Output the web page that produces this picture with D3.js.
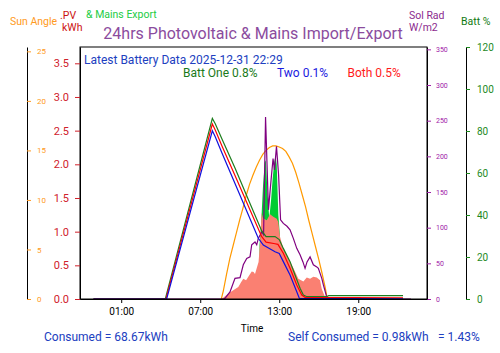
<!DOCTYPE html>
<html lang="en">
<head>
    <meta charset="UTF-8">
    <title>24hrs Photovoltaic & Mains Import/Export</title>
    <script src="https://cdnjs.cloudflare.com/ajax/libs/d3/7.8.5/d3.min.js"></script>
    <style>
        body { margin: 0; background: #fff; }
        text { font-family: Roboto, sans-serif; }
    </style>
</head>
<body>
    <div id="wrapper"></div>
    <script>
        // times are hours from midnight 2025-12-31 (negative = previous evening)
        const xTickHours = [1, 7, 13, 19]
        const xTickLabels = ['01:00', '07:00', '13:00', '19:00']

        // [hour, kWh] PV generation
        const pvData = [[8.63, 0], [8.88, 0.04], [9.13, 0.08], [9.51, 0.13], [9.89, 0.18], [10.1, 0.25],
            [10.27, 0.30], [10.48, 0.28], [10.65, 0.33], [10.91, 0.41], [11.05, 0.40], [11.16, 0.37],
            [11.31, 0.47], [11.43, 0.55], [11.54, 0.83], [11.66, 1.28], [11.77, 1.20], [12.05, 1.17],
            [12.3, 1.26], [12.55, 1.22], [12.81, 1.19], [12.93, 1.14], [13.06, 0.92], [13.31, 0.75],
            [13.69, 0.60], [14.07, 0.46], [14.45, 0.30], [14.83, 0.26], [15.09, 0.32], [15.34, 0.30],
            [15.59, 0.33], [15.85, 0.32], [16.1, 0.28], [16.23, 0.15], [16.48, 0.03], [16.59, 0]]

        // [hour, kWh] mains export
        const exportData = [[11.5, 0.8], [11.62, 1.10], [11.77, 1.69], [11.9, 2.03], [11.98, 2.06],
            [12.12, 1.54], [12.24, 1.20], [12.38, 1.47], [12.5, 1.79], [12.62, 2.03], [12.72, 2.14],
            [12.81, 1.99], [12.93, 1.25], [13.06, 0.92]]

        // [hour, degrees]
        const sunAngle = [[8.6, 0], [8.75, 0.8], [9.0, 2.5], [9.25, 4.1], [9.5, 5.4], [9.75, 6.7],
            [10.0, 8.0], [10.25, 9.2], [10.5, 10.5], [10.75, 11.6], [11.0, 12.5], [11.25, 13.3],
            [11.5, 14.0], [11.75, 14.6], [12.0, 15.0], [12.25, 15.3], [12.5, 15.45], [12.75, 15.45],
            [13.0, 15.35], [13.25, 15.2], [13.5, 14.9], [13.75, 14.35], [14.0, 13.7], [14.25, 12.8],
            [14.5, 11.7], [14.75, 10.5], [15.0, 9.3], [15.25, 7.9], [15.5, 6.6], [15.75, 5.3],
            [16.0, 4.0], [16.25, 2.6], [16.5, 1.1], [16.65, 0]]

        // [hour, W/m2]
        const solarRad = [[-1.1, 0], [8.8, 0], [8.88, 1], [9.26, 10], [9.64, 29], [10.02, 30],
            [10.27, 48], [10.53, 57], [10.78, 59], [10.91, 76], [11.16, 80], [11.29, 76], [11.41, 85],
            [11.67, 94], [11.81, 90], [11.96, 255], [12.18, 125], [12.38, 167], [12.53, 197],
            [12.64, 181], [12.79, 214], [12.95, 174], [13.1, 111], [13.31, 106], [13.59, 102],
            [13.82, 97], [14.07, 85], [14.33, 71], [14.58, 62], [14.8, 52], [14.96, 43], [15.11, 52],
            [15.34, 59], [15.59, 48], [15.85, 45], [15.97, 43], [16.23, 29], [16.35, 20], [16.6, 3],
            [16.7, 0], [23.0, 0]]

        // [hour, %]
        const battOne = [[-1.1, 0], [4.35, 0], [7.92, 86.0], [8.14, 83.5], [8.65, 76.2], [9.64, 62.4],
            [10.65, 47.4], [11.67, 32.4], [12.0, 29.7], [12.68, 29.7], [13.0, 28.3], [13.31, 24.1],
            [13.82, 17.8], [14.2, 11.4], [14.58, 5.1], [14.83, 1.9], [15.1, 1.1], [16.6, 1.1],
            [16.75, 1.6], [22.4, 1.6]]
        const battTwo = [[-1.1, 0], [4.45, 0], [7.92, 80.1], [8.14, 77.3], [8.65, 69.5], [9.64, 55.0],
            [10.65, 40.1], [11.41, 28.9], [11.79, 25.7], [12.68, 22.5], [13.0, 21.7], [13.31, 17.8],
            [13.82, 11.4], [14.33, 3.5], [14.53, 0.3], [22.4, 0.1]]
        const battBoth = [[-1.1, 0], [4.4, 0], [7.92, 83.3], [8.14, 80.5], [8.65, 72.9], [9.64, 58.8],
            [10.65, 44.3], [11.67, 29.7], [12.0, 27.1], [12.68, 26.3], [12.9, 26.0], [13.31, 21.8],
            [13.82, 14.6], [14.33, 6.7], [14.71, 1.9], [14.96, 0.8], [22.4, 0.6]]

        const pvTicks = [0, 0.5, 1, 1.5, 2, 2.5, 3, 3.5]
        const sunTicks = [0, 5, 10, 15, 20, 25]
        const radTicks = [0, 50, 100, 150, 200, 250, 300, 350]
        const battTicks = [0, 20, 40, 60, 80, 100, 120]

        const dims = { width: 500, height: 353, left: 80, right: 427, top: 47, bottom: 299 }

        const svg = d3.select('#wrapper').append('svg')
            .attr('width', dims.width)
            .attr('height', dims.height)

        const xScale = d3.scaleLinear().domain([-2.13, 24.22]).range([dims.left, dims.right])
        const pvScale = d3.scaleLinear().domain([0, 3.742]).range([dims.bottom, dims.top])
        const sunScale = d3.scaleLinear().domain([0, 25.44]).range([dims.bottom, dims.top])
        const radScale = d3.scaleLinear().domain([0, 353.3]).range([dims.bottom, dims.top])
        const battScale = d3.scaleLinear().domain([0, 120]).range([dims.bottom, dims.top])

        const area = d3.area()
            .x(d => xScale(d[0]))
            .y0(pvScale(0))
            .y1(d => pvScale(d[1]))

        svg.append('path').attr('d', area(exportData)).attr('fill', '#00cc33')
        svg.append('path').attr('d', area(pvData)).attr('fill', '#fa8072')

        function drawLine(data, yScale, colour) {
            const line = d3.line().x(d => xScale(d[0])).y(d => yScale(d[1]))
            svg.append('path')
                .attr('d', line(data))
                .attr('fill', 'none')
                .attr('stroke', colour)
                .attr('stroke-width', 1.2)
        }
        drawLine(sunAngle, sunScale, '#ff9900')
        drawLine(solarRad, radScale, '#800080')
        drawLine(battOne, battScale, '#1e7d1e')
        drawLine(battBoth, battScale, '#ff0000')
        drawLine(battTwo, battScale, '#1010dd')

        // frame
        svg.append('rect')
            .attr('x', dims.left).attr('y', dims.top)
            .attr('width', dims.right - dims.left).attr('height', dims.bottom - dims.top)
            .attr('fill', 'none').attr('stroke', '#000').attr('stroke-width', 1)

        function styleAxis(g, colour, size) {
            g.attr('font-family', 'Roboto, sans-serif').attr('font-size', size)
            g.select('.domain').attr('stroke', '#000')
            g.selectAll('.tick line').attr('stroke', colour)
            g.selectAll('.tick text').attr('fill', colour)
        }

        svg.append('g')
            .attr('transform', `translate(${dims.left},0)`)
            .call(d3.axisLeft(pvScale).tickValues(pvTicks).tickFormat(d3.format('.1f'))
                .tickSize(5).tickSizeOuter(0).tickPadding(6))
            .call(g => styleAxis(g, '#d0212b', 11))

        svg.append('g')
            .attr('transform', 'translate(27,0)')
            .call(d3.axisRight(sunScale).tickValues(sunTicks).tickSize(4).tickSizeOuter(0).tickPadding(6))
            .call(g => styleAxis(g, '#ff9a22', 8))

        svg.append('g')
            .attr('transform', `translate(${dims.right},0)`)
            .call(d3.axisRight(radScale).tickValues(radTicks).tickSize(4).tickSizeOuter(0).tickPadding(5))
            .call(g => styleAxis(g, '#a020a8', 7))

        svg.append('g')
            .attr('transform', 'translate(466,0)')
            .call(d3.axisRight(battScale).tickValues(battTicks).tickSize(4).tickSizeOuter(0).tickPadding(7))
            .call(g => styleAxis(g, '#1e8a1e', 10))

        svg.append('g')
            .attr('transform', `translate(0,${dims.bottom})`)
            .call(d3.axisBottom(xScale).tickValues(xTickHours)
                .tickFormat((d, i) => xTickLabels[i]).tickSize(4).tickSizeOuter(0).tickPadding(5))
            .call(g => styleAxis(g, '#000', 10))

        function label(x, y, str, colour, size, anchor) {
            svg.append('text')
                .attr('x', x).attr('y', y)
                .attr('fill', colour)
                .attr('font-size', size)
                .attr('text-anchor', anchor || 'start')
                .text(str)
        }

        label(10, 25, 'Sun Angle', '#ff9a22', 10.5)
        label(60, 18.5, '.PV', '#cc1111', 10.5)
        label(62, 30.5, 'kWh', '#cc1111', 10.5)
        label(86, 18, '& Mains Export', '#22cc44', 10.5)
        label(253, 39, '24hrs Photovoltaic & Mains Import/Export', '#8b4c9e', 16, 'middle')
        label(409, 19, 'Sol Rad', '#8b2a8e', 10.5)
        label(409, 30.5, 'W/m2', '#8b2a8e', 10.5)
        label(461, 25, 'Batt %', '#117a11', 10.5)

        label(84, 63.5, 'Latest Battery Data 2025-12-31 22:29', '#2040c0', 12)
        label(183, 76.5, 'Batt One 0.8%', '#1a7a1a', 12)
        label(277, 76.5, 'Two 0.1%', '#1a1ae0', 12)
        label(347.5, 76.5, 'Both 0.5%', '#ff1a1a', 12)

        label(252, 332, 'Time', '#000', 10, 'middle')
        label(44, 341, 'Consumed = 68.67kWh', '#2040c0', 12)
        label(288, 341, 'Self Consumed = 0.98kWh', '#2040c0', 12)
        label(438, 341, '= 1.43%', '#2040c0', 12)
    </script>
</body>
</html>
